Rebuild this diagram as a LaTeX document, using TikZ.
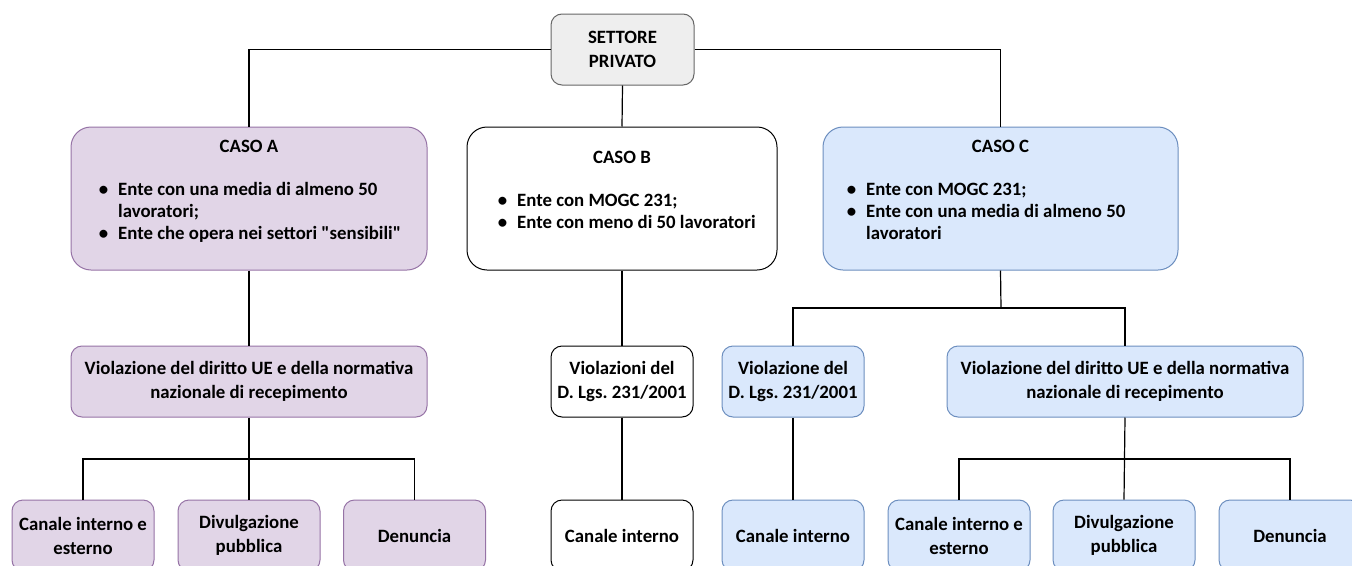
\documentclass[tikz,border=0pt]{standalone}
\usepackage{fontspec}
\setmainfont{Carlito}
\newfontfamily\qfont{Carlito}[Ligatures=ResetAll]
\usetikzlibrary{calc}
\definecolor{pfill}{HTML}{E1D5E7}
\definecolor{pdraw}{HTML}{9673A6}
\definecolor{bfill}{HTML}{DAE8FC}
\definecolor{bdraw}{HTML}{6C8EBF}
\definecolor{gfill}{HTML}{EEEEEE}
\definecolor{gdraw}{HTML}{666666}
\frenchspacing
\newcommand{\sq}{{\qfont\bfseries\char"22}}
\begin{document}
\begin{tikzpicture}[x=1pt,y=-1pt,
  font=\fontsize{18.8}{24}\selectfont\bfseries,
  bigbox/.style={rectangle, rounded corners=20pt, minimum height=143pt, line width=1pt, inner sep=0pt},
  smallbox/.style={rectangle, rounded corners=11pt, minimum width=142pt, minimum height=71pt, align=center, inner sep=0pt, line width=1pt},
  purplebox/.style={fill=pfill, draw=pdraw},
  bluebox/.style={fill=bfill, draw=bdraw},
  plainbox/.style={fill=white, draw=black},
  graybox/.style={fill=gfill, draw=gdraw},
  conn/.style={draw=black, line width=1.2pt},
  txt/.style={inner sep=0pt, anchor=base west},
  ttl/.style={inner sep=0pt, anchor=base}
]
\clip (0,0) rectangle (1352,565);
\fill[white] (0,0) rectangle (1352,565);

% top
\node[smallbox, graybox, minimum width=143pt] (S) at (622.5,49.5) {SETTORE\\PRIVATO};

% cases
\node[bigbox, purplebox, minimum width=356pt] (A) at (249,198.5) {};
\node[bigbox, plainbox, minimum width=310pt] (B) at (622,198.5) {};
\node[bigbox, bluebox, minimum width=355pt] (C) at (1000.5,198.5) {};

\newcommand{\bul}{\llap{\textbullet\hspace{10pt}}}

\node[ttl] (tA) at ($(A.north)+(0,26)$) {CASO A};
\node[txt] (a1) at (118,195) {\bul Ente con una media di almeno 50};
\node[txt] (a2) at (118,217) {lavoratori;};
\node[txt] (a3) at (118,239) {\bul Ente che opera nei settori \sq sensibili\sq};

\node[ttl] (tB) at ($(B.north)+(0,37)$) {CASO B};
\node[txt] (b1) at (517,206) {\bul Ente con MOGC 231;};
\node[txt] (b2) at (517,228) {\bul Ente con meno di 50 lavoratori};

\node[ttl] (tC) at ($(C.north)+(0,26)$) {CASO C};
\node[txt] (c1) at (866,195) {\bul Ente con MOGC 231;};
\node[txt] (c2) at (866,217) {\bul Ente con una media di almeno 50};
\node[txt] (c3) at (866,239) {lavoratori};

% second row
\node[smallbox, purplebox, minimum width=356pt] (VA) at (249,381.5) {Violazione del diritto UE e della normativa\\nazionale di recepimento};
\node[smallbox, plainbox] (VB) at (622,381.5) {Violazioni del\\D. Lgs. 231/2001};
\node[smallbox, bluebox] (VC1) at (793,381.5) {Violazione del\\D. Lgs. 231/2001};
\node[smallbox, bluebox, minimum width=356pt] (VC2) at (1125,381.5) {Violazione del diritto UE e della normativa\\nazionale di recepimento};

% bottom row
\node[smallbox, purplebox] (DA1) at (83,535.5) {Canale interno e\\esterno};
\node[smallbox, purplebox] (DA2) at (249,535.5) {Divulgazione\\pubblica};
\node[smallbox, purplebox] (DA3) at (414.5,535.5) {Denuncia};
\node[smallbox, plainbox] (CB) at (622,535.5) {Canale interno};
\node[smallbox, bluebox] (CC1) at (793,535.5) {Canale interno};
\node[smallbox, bluebox] (CC2a) at (959,535.5) {Canale interno e\\esterno};
\node[smallbox, bluebox] (CC2b) at (1124,535.5) {Divulgazione\\pubblica};
\node[smallbox, bluebox] (CC2c) at (1290,535.5) {Denuncia};

% junctions
\coordinate (jA) at (249,459);
\coordinate (jC) at (1001,308);
\coordinate (jD) at (1125,459);

% connectors
\draw[conn] (S.west) -| (A.north);
\draw[conn] (S.east) -| (C.north);
\draw[conn] (S.south) -- (B.north);
\draw[conn] (A.south) -- (VA.north);
\draw[conn] (VA.south) -- (DA2.north);
\draw[conn] (DA1.north) |- (jA) -| (DA3.north);
\draw[conn] (B.south) -- (VB.north);
\draw[conn] (VB.south) -- (CB.north);
\draw[conn] (C.south) -- (jC);
\draw[conn] (VC1.north) |- (jC) -| (VC2.north);
\draw[conn] (VC1.south) -- (CC1.north);
\draw[conn] (VC2.south) -- (CC2b.north);
\draw[conn] (CC2a.north) |- (jD) -| (CC2c.north);
\end{tikzpicture}
\end{document}
